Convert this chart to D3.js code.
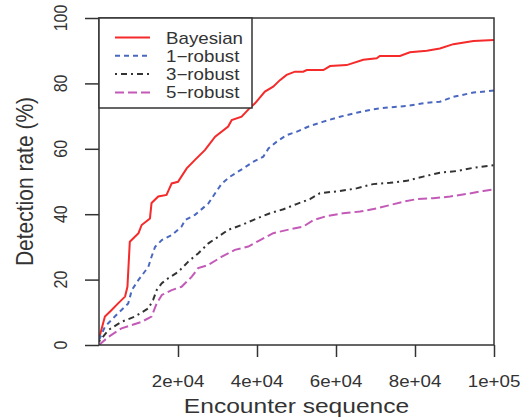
<!DOCTYPE html>
<html>
<head>
<meta charset="utf-8">
<script src="https://cdn.jsdelivr.net/npm/d3@7"></script>
<style>
  body { margin: 0; background: #fff; }
  text { font-family: "Liberation Sans", Arial, sans-serif; fill: #333; }
</style>
</head>
<body>
<div id="chart"></div>
<script>
// Data (encounter number, detection rate %)
const bayesianX = [0, 1500, 3200, 4900, 6600, 7200, 7800, 10000, 10800, 12900, 13300, 15000, 17100, 18400, 20000, 22200, 24300, 26800, 29400, 32700, 33600, 36100, 38200, 39500, 42000, 44100, 45800, 47500, 49600, 51700, 52600, 56800, 58500, 62700, 66900, 70300, 71100, 76200, 78700, 83000, 86300, 89700, 94800, 100000];
const bayesianY = [2, 8.7, 10.7, 12.8, 14.8, 17.8, 31.6, 34.2, 36.7, 38.7, 43.4, 45.4, 45.9, 49.4, 49.9, 54, 56.6, 59.6, 63.7, 66.8, 68.8, 69.8, 72.5, 73.9, 77.5, 79, 81, 82.6, 83.6, 83.6, 84.1, 84.1, 85.3, 85.6, 87.2, 87.7, 88.4, 88.4, 89.5, 90, 90.7, 92, 93, 93.3];

const robust1X = [0, 1500, 4000, 7400, 8300, 10000, 12500, 13300, 14200, 15900, 18400, 20900, 21800, 24300, 27700, 29400, 31100, 33200, 36500, 39000, 41600, 42900, 45000, 47500, 50000, 53400, 56800, 61000, 65200, 69400, 73700, 77900, 83000, 86300, 89700, 94800, 100000];
const robust1Y = [1.5, 5.6, 8.7, 12.7, 16.8, 19.9, 23.9, 27, 30, 32.1, 33.6, 36.2, 38.2, 39.8, 43.3, 46.4, 49.4, 51.5, 54, 56, 57.6, 60.1, 62.2, 64.2, 65.2, 67, 68.3, 69.8, 71, 72.1, 72.7, 73.1, 74.1, 74.4, 75.9, 77.2, 77.8];

const robust3X = [0, 2400, 5700, 9100, 12500, 13700, 14600, 15900, 17500, 20100, 22600, 25100, 27700, 30200, 32700, 36100, 39000, 43300, 46700, 50000, 53400, 55900, 61000, 65200, 69400, 73700, 77900, 82100, 86300, 90600, 94800, 100000];
const robust3Y = [1, 4.6, 7.1, 8.7, 11.2, 13.8, 16.8, 18.9, 20.4, 22.4, 25.5, 28, 31.1, 33.1, 35.2, 36.7, 38.2, 40.3, 41.5, 43.1, 44.6, 46.4, 47.1, 47.9, 49.2, 49.6, 50.2, 51.5, 52.7, 53.2, 54.2, 55];

const robust5X = [0, 2400, 5700, 8300, 10800, 13300, 14600, 15900, 18400, 20900, 23500, 25100, 27700, 31100, 34400, 37800, 40800, 44100, 48400, 51700, 54300, 57600, 61800, 66100, 70300, 73700, 77000, 80400, 84600, 88900, 93100, 97300, 100000];
const robust5Y = [0, 2.5, 5.1, 6.1, 7.1, 8.7, 12.7, 15.3, 16.8, 17.8, 20.9, 23.5, 24.5, 27, 29.1, 30.1, 32.1, 34.2, 35.4, 36.2, 38.2, 39.4, 40.3, 40.8, 41.8, 42.8, 43.8, 44.6, 44.9, 45.4, 46.2, 47.1, 47.6];

const seriesNames = ["Bayesian", "1\u2212robust", "3\u2212robust", "5\u2212robust"];
const xTicks = [20000, 40000, 60000, 80000, 100000];
const xTickLabels = ["2e+04", "4e+04", "6e+04", "8e+04", "1e+05"];
const yTicks = [0, 20, 40, 60, 80, 100];

// Dimensions
const width = 522, height = 420;
const margin = { top: 18, right: 28, bottom: 75, left: 99 };
const innerW = width - margin.left - margin.right;
const innerH = height - margin.top - margin.bottom;
const stretch = 1.17; // glyphs in the picture are wider than tall

const styles = [
    { color: "#f52a2a", dash: null },
    { color: "#4a68c0", dash: "5,4" },
    { color: "#333333", dash: "2,4,6,4" },
    { color: "#c45ab8", dash: "9,4" },
];

const series = [
    d3.zip(bayesianX, bayesianY),
    d3.zip(robust1X, robust1Y),
    d3.zip(robust3X, robust3Y),
    d3.zip(robust5X, robust5Y),
];

const svg = d3.select("#chart").append("svg")
    .attr("width", width)
    .attr("height", height);

const g = svg.append("g")
    .attr("transform", `translate(${margin.left},${margin.top})`);

// Scales
const x = d3.scaleLinear().domain([0, 100000]).range([0, innerW]);
const y = d3.scaleLinear().domain([0, 100]).range([innerH, 0]);

// Clip
svg.append("defs").append("clipPath").attr("id", "clip")
    .append("rect").attr("width", innerW).attr("height", innerH);

// Lines
const line = d3.line().x(d => x(d[0])).y(d => y(d[1]));
g.append("g").attr("clip-path", "url(#clip)")
    .selectAll("path")
    .data(series)
    .join("path")
    .attr("d", line)
    .attr("fill", "none")
    .attr("stroke", (d, i) => styles[i].color)
    .attr("stroke-width", 2)
    .attr("stroke-dasharray", (d, i) => styles[i].dash);

// Axes
const xAxis = g.append("g")
    .attr("transform", `translate(0,${innerH})`)
    .call(d3.axisBottom(x).tickValues(xTicks).tickFormat("").tickSize(12).tickSizeOuter(0));
const yAxis = g.append("g")
    .call(d3.axisLeft(y).tickValues(yTicks).tickFormat("").tickSize(14).tickSizeOuter(0));
[xAxis, yAxis].forEach(a => {
    a.select(".domain").remove();
    a.selectAll("line").attr("stroke", "#333").attr("stroke-width", 1.5);
});

// x tick labels
g.append("g").selectAll("text")
    .data(xTicks)
    .join("text")
    .attr("transform", (d) => `translate(${x(d)},${innerH + 42}) scale(${stretch},1)`)
    .attr("text-anchor", "middle")
    .style("font-size", "16px")
    .text((d, i) => xTickLabels[i]);

// y tick labels (rotated, R style)
g.append("g").selectAll("text")
    .data(yTicks)
    .join("text")
    .attr("transform", d => `translate(${-32},${y(d)}) scale(${stretch},1) rotate(-90)`)
    .attr("text-anchor", "middle")
    .style("font-size", "16px")
    .text(d => d);

// Plot frame
g.append("rect")
    .attr("width", innerW)
    .attr("height", innerH)
    .attr("fill", "none")
    .attr("stroke", "#333")
    .attr("stroke-width", 1.5);

// Axis titles
svg.append("text")
    .attr("transform", `translate(${margin.left + innerW / 2},${height - 7}) scale(${stretch},1)`)
    .attr("text-anchor", "middle")
    .style("font-size", "21px")
    .text("Encounter sequence");

svg.append("text")
    .attr("transform", `translate(33,${margin.top + innerH / 2}) scale(${stretch},1) rotate(-90)`)
    .attr("text-anchor", "middle")
    .style("font-size", "21px")
    .text("Detection rate (%)");

// Legend
const legend = g.append("g");
legend.append("rect")
    .attr("width", 153)
    .attr("height", 90)
    .attr("fill", "#fff")
    .attr("stroke", "#333")
    .attr("stroke-width", 1.5);

const rows = legend.selectAll("g.row")
    .data(seriesNames)
    .join("g")
    .attr("class", "row")
    .attr("transform", (d, i) => `translate(0,${19.5 + i * 18.3})`);

rows.append("line")
    .attr("x1", 16).attr("x2", 51)
    .attr("stroke", (d, i) => styles[i].color)
    .attr("stroke-width", 2)
    .attr("stroke-dasharray", (d, i) => styles[i].dash);

rows.append("text")
    .attr("transform", `translate(67,6) scale(${stretch},1)`)
    .style("font-size", "16px")
    .text(d => d);
</script>
</body>
</html>
